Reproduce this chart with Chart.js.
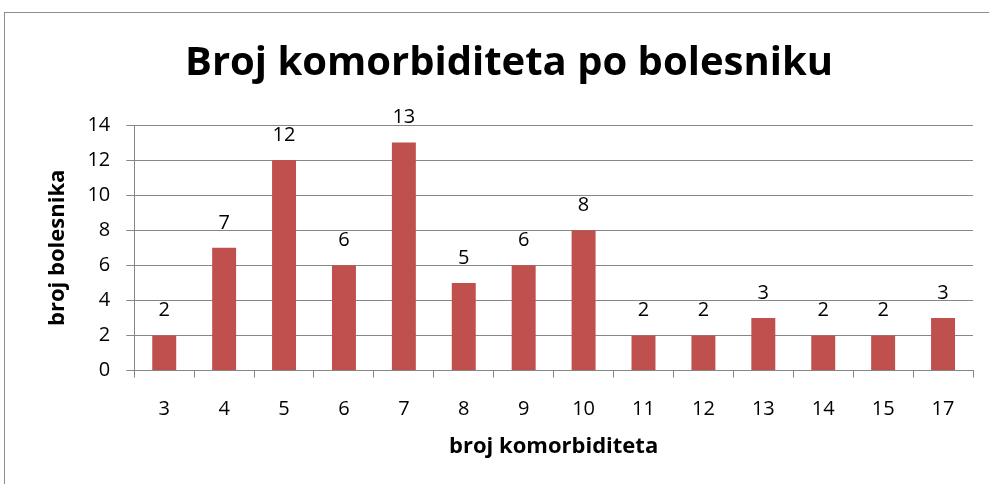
<!DOCTYPE html>
<html>
<head>
<meta charset="utf-8">
<script src="https://cdn.jsdelivr.net/npm/chart.js@4"></script>
<style>
  html, body { margin: 0; padding: 0; background: #fff; overflow: hidden; }
  #frame { position: absolute; left: 4px; top: 12px; width: 1100px; height: 600px; border: 1px solid #8c8c8c; }
  #wrap { position: absolute; left: 0; top: 0; width: 989px; height: 484px; }
</style>
</head>
<body>
<div id="frame"></div>
<div id="wrap"><canvas id="myChart"></canvas></div>
<script>
const categories = ['3', '4', '5', '6', '7', '8', '9', '10', '11', '12', '13', '14', '15', '17'];
const patients = [2, 7, 12, 6, 13, 5, 6, 8, 2, 2, 3, 2, 2, 3];
const yTicks = [0, 2, 4, 6, 8, 10, 12, 14];

const font = '"Open Sans", Lato, sans-serif';
const barColor = '#C0504D';
const lineColor = '#868686';

// labels above each bar, placed from the bar elements themselves
const valueLabels = {
  id: 'valueLabels',
  afterDatasetsDraw(chart) {
    const ctx = chart.ctx;
    const meta = chart.getDatasetMeta(0);
    ctx.save();
    ctx.font = '20px ' + font;
    ctx.fillStyle = '#000';
    ctx.textAlign = 'center';
    ctx.textBaseline = 'middle';
    meta.data.forEach((bar, i) => {
      ctx.fillText(String(patients[i]), bar.x, bar.y - 25);
    });
    ctx.restore();
  },
};

const ctx = document.getElementById('myChart').getContext('2d');
new Chart(ctx, {
  type: 'bar',
  data: {
    labels: categories,
    datasets: [{
      data: patients,
      backgroundColor: barColor,
      borderWidth: 0,
      categoryPercentage: 1,
      barPercentage: 0.4,
    }],
  },
  options: {
    responsive: true,
    maintainAspectRatio: false,
    animation: false,
    layout: { padding: { left: 45, right: 16, top: 40, bottom: 24 } },
    plugins: {
      legend: { display: false },
      tooltip: { enabled: false },
      title: {
        display: true,
        text: 'Broj komorbiditeta po bolesniku',
        color: '#000',
        font: { family: font, size: 40, weight: 'bold' },
        padding: { top: 0, bottom: 37 },
      },
    },
    scales: {
      x: {
        grid: { drawOnChartArea: false, drawTicks: true, tickLength: 7, color: lineColor },
        border: { color: lineColor },
        ticks: { color: '#000', font: { family: font, size: 20 }, padding: 20 },
        title: {
          display: true,
          text: 'broj komorbiditeta',
          color: '#000',
          font: { family: font, size: 22, weight: 'bold' },
          padding: { top: -8, bottom: 0 },
        },
      },
      y: {
        min: 0,
        max: 14,
        afterBuildTicks(axis) {
          axis.ticks = yTicks.map(v => ({ value: v }));
        },
        grid: { color: lineColor, tickLength: 8 },
        border: { color: lineColor },
        ticks: { color: '#000', font: { family: font, size: 20 }, padding: 16 },
        title: {
          display: true,
          text: 'broj bolesnika',
          color: '#000',
          font: { family: font, size: 22, weight: 'bold' },
          padding: { top: 0, bottom: 0 },
        },
      },
    },
  },
  plugins: [valueLabels],
});
</script>
</body>
</html>
